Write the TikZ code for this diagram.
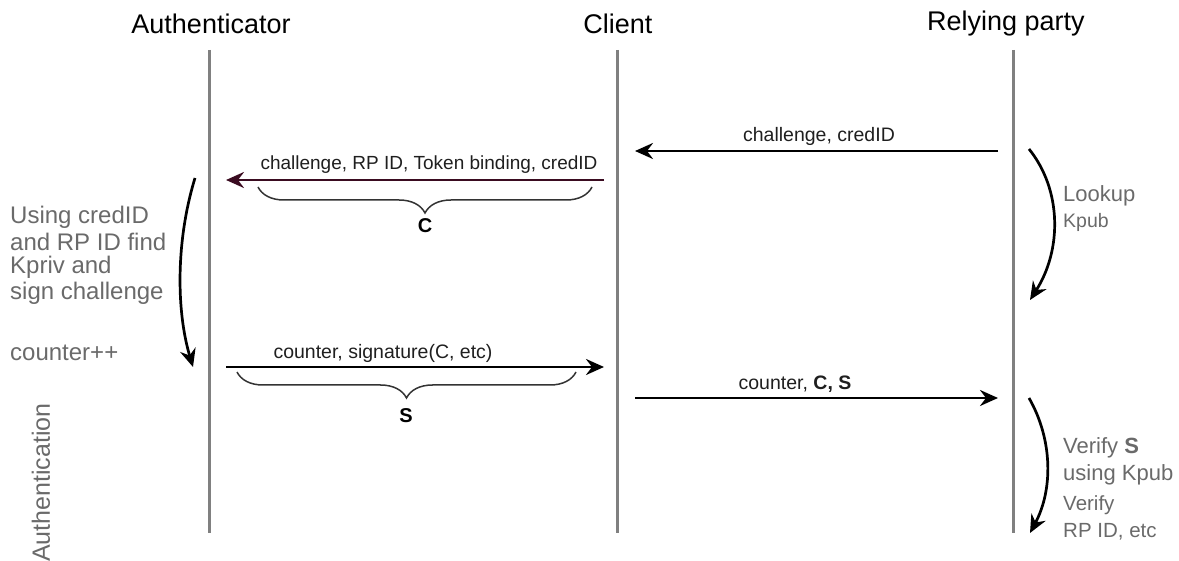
\documentclass[tikz,border=0pt]{standalone}
\usepackage{fontspec}
\setmainfont{Liberation Sans}
\usetikzlibrary{arrows.meta,decorations.pathreplacing}
\definecolor{lifegray}{HTML}{808080}
\definecolor{notegray}{HTML}{6A6A6A}
\definecolor{wine}{HTML}{3A0B20}
\definecolor{bracegray}{HTML}{333333}
\tikzset{
  lifeline/.style={draw=lifegray,line width=3pt},
  msg/.style={line width=2.7pt,-{Stealth[length=18pt,width=16pt,inset=6pt]}},
  flow/.style={line width=2.7pt,-{Stealth[length=18pt,width=16pt,inset=6pt]}},
  party/.style={font=\fontsize{27}{32}\selectfont,inner sep=0pt},
  msglabel/.style={font=\fontsize{19.5}{23}\selectfont,text=black!88,inner sep=0pt},
  notetext/.style={font=\fontsize{24}{28}\selectfont,text=notegray,inner sep=0pt,anchor=west},
  smallnote/.style={font=\fontsize{20.5}{24}\selectfont,text=notegray,inner sep=0pt,anchor=west},
  grouping/.style={draw=bracegray,line width=1.5pt,decorate,
    decoration={brace,mirror,amplitude=26pt}},
  bracelabel/.style={font=\fontsize{20}{24}\selectfont\bfseries,inner sep=0pt}
}
\begin{document}
\begin{tikzpicture}[x=1pt,y=-1pt]
\useasboundingbox (0,0) rectangle (1179,561);

% parties
\node[party] (auth) at (211,24) {Authenticator};
\node[party] (client) at (618,24) {Client};
\node[party] (rp) at (1006,24) {Relying party};

% lifelines
\coordinate (authTop) at (209,50);   \coordinate (authBot) at (209,533);
\coordinate (cliTop) at (617,50);    \coordinate (cliBot) at (617,533);
\coordinate (rpTop) at (1013,50);    \coordinate (rpBot) at (1013,533);
\draw[lifeline] (authTop) -- (authBot);
\draw[lifeline] (cliTop) -- (cliBot);
\draw[lifeline] (rpTop) -- (rpBot);

% relying party -> client
\coordinate (m1s) at (998,151); \coordinate (m1e) at (635,151);
\draw[msg] (m1s) -- (m1e);
\node[msglabel] (m1l) at (819,136) {challenge, credID};

% client -> authenticator
\coordinate (m2s) at (604,180); \coordinate (m2e) at (226,180);
\draw[msg,draw=wine] (m2s) -- (m2e);
\node[msglabel,font=\fontsize{19}{22}\selectfont] (m2l) at (429,165) {challenge, RP ID, Token binding, credID};
\coordinate (c1) at (258,187); \coordinate (c2) at (592,187);
\draw[grouping] (c1) -- (c2);
\node[bracelabel] (cl) at (425,226) {C};

% authenticator processing
\coordinate (p1s) at (195,178); \coordinate (p1e) at (193,367);
\draw[flow] (p1s) .. controls (176,240) and (176,310) .. (p1e);
\node[notetext] (n1) at (10,217) {Using credID};
\node[notetext] (n2) at (10,242) {and RP ID find};
\node[notetext] (n3) at (10,267) {Kpriv and};
\node[notetext] (n4) at (10,293) {sign challenge};
\node[notetext] (n5) at (10,353) {counter++};

% authenticator -> client
\coordinate (m3s) at (226,367); \coordinate (m3e) at (604,367);
\draw[msg] (m3s) -- (m3e);
\node[msglabel] (m3l) at (383,353) {counter, signature(C, etc)};
\coordinate (s1) at (237,372); \coordinate (s2) at (576,372);
\draw[grouping] (s1) -- (s2);
\node[bracelabel] (sl) at (406,416) {S};

% client -> relying party
\coordinate (m4s) at (635,398); \coordinate (m4e) at (998,398);
\draw[msg] (m4s) -- (m4e);
\node[msglabel] (m4l) at (795,384) {counter, \textbf{C, S}};

% relying party processing
\coordinate (r1s) at (1029,149); \coordinate (r1e) at (1030,300);
\draw[flow] (r1s) .. controls (1062,190) and (1062,250) .. (r1e);
\node[smallnote,font=\fontsize{22}{26}\selectfont] (l1) at (1063,196) {Lookup};
\node[smallnote,font=\fontsize{19.5}{24}\selectfont] (l2) at (1063,222) {Kpub};

\coordinate (r2s) at (1029,398); \coordinate (r2e) at (1030,533);
\draw[flow] (r2s) .. controls (1053,440) and (1053,490) .. (r2e);
\node[smallnote,font=\fontsize{22}{26}\selectfont] (v1) at (1063,448) {Verify \textbf{S}};
\node[smallnote,font=\fontsize{22}{26}\selectfont] (v2) at (1063,475) {using Kpub};
\node[smallnote] (v3) at (1063,505) {Verify};
\node[smallnote] (v4) at (1063,532) {RP ID, etc};

% phase label
\node[notetext,font=\fontsize{25}{30}\selectfont,rotate=90] (phase) at (41,562) {Authentication};
\end{tikzpicture}
\end{document}
